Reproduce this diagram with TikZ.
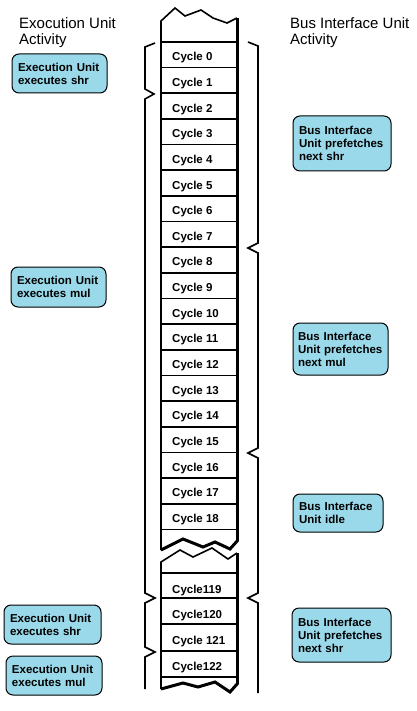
\documentclass[tikz,border=0pt]{standalone}
\usepackage{fontspec}
\setmainfont{Liberation Sans}
\definecolor{actblue}{RGB}{153,217,234}
\tikzset{
  activity/.style={draw, line width=1pt, fill=actblue, rounded corners=7pt,
    align=left, inner xsep=6pt, inner ysep=0pt,
    font=\bfseries\fontsize{11.5}{13}\selectfont},
  cyclelabel/.style={anchor=west, inner sep=0pt,
    font=\bfseries\fontsize{11.5}{13}\selectfont},
  heading/.style={anchor=west, align=left, inner sep=0pt,
    font=\fontsize{15}{16}\selectfont}
}
\begin{document}
\begin{tikzpicture}[x=1pt,y=-1pt,line join=miter]
\useasboundingbox (0,0) rectangle (416,711);

\node[heading] (euhead) at (19,32.6) {Exocution Unit\\Activity};
\node[heading] (biuhead) at (290,32.6) {Bus Interface Unit\\Activity};

% upper part of the cycle column
\draw[line width=1.6pt] (161,550) -- (161,21) -- (175,8) -- (185,16) -- (201,10)
  -- (213,18) -- (227,23) -- (237,18);
\draw[line width=3pt] (237,18) -- (237,541);
\draw[line width=3pt] (161,550) -- (183,539) -- (203,547) -- (215,542)
  -- (230,549) -- (238,540);
\foreach \k in {0,...,19}
  \draw[line width=1.6pt] (161,42+25.65*\k) -- (237,42+25.65*\k);
\foreach \k in {0,...,18}
  \node[cyclelabel] (c\k) at (172,45+25.65*\k+12.8) {Cycle \k};

% lower part of the cycle column
\draw[line width=1.6pt] (237,553) -- (228,559) -- (212,548) -- (193,557)
  -- (180,550) -- (161,562) -- (161,689);
\draw[line width=3pt] (237,553) -- (237,684);
\draw[line width=3pt] (161,689) -- (183,683) -- (198,687) -- (215,682)
  -- (230,692) -- (238,683);
\foreach \y in {573,598,624,651,677}
  \draw[line width=1.6pt] (161,\y) -- (237,\y);
\node[cyclelabel] (c119) at (172,591) {Cycle119};
\node[cyclelabel] (c120) at (172,616) {Cycle120};
\node[cyclelabel] (c121) at (172,642) {Cycle 121};
\node[cyclelabel] (c122) at (172,667.5) {Cycle122};

% braces
\draw[line width=1.6pt] (155,43) -- (145,47) -- (145,89) -- (154,94) -- (145,99)
  -- (145,593) -- (155,598) -- (145,603) -- (145,647) -- (155,652) -- (145,657)
  -- (145,689);
\draw[line width=1.6pt] (248,42) -- (258,46) -- (258,243) -- (248,248) -- (258,253)
  -- (258,448) -- (248,453) -- (258,458) -- (258,593) -- (248,598) -- (258,603)
  -- (258,693);

\node[activity, text width=83pt, minimum height=39pt] (eushr) at (59.5,73.5)
  {Execution Unit\\executes shr};
\node[activity, text width=83pt, minimum height=40pt] (eumul) at (58.5,287)
  {Execution Unit\\executes mul};
\node[activity, text width=85pt, minimum height=39pt] (eushrb) at (52.5,624.5)
  {Execution Unit\\executes shr};
\node[activity, text width=84pt, minimum height=39pt] (eumulb) at (54,675.5)
  {Execution Unit\\executes mul};

\node[activity, text width=86pt, minimum height=55pt] (biushr) at (342,143.5)
  {Bus Interface\\Unit prefetches\\next shr};
\node[activity, text width=85pt, inner xsep=5pt, minimum height=52pt] (biumul) at (340.5,349)
  {Bus Interface\\Unit prefetches\\next mul};
\node[activity, text width=78pt, minimum height=38pt] (biuidle) at (338,513)
  {Bus Interface\\Unit idle};
\node[activity, text width=87pt, minimum height=54pt] (biushrb) at (341.5,635)
  {Bus Interface\\Unit prefetches\\next shr};

\end{tikzpicture}
\end{document}
